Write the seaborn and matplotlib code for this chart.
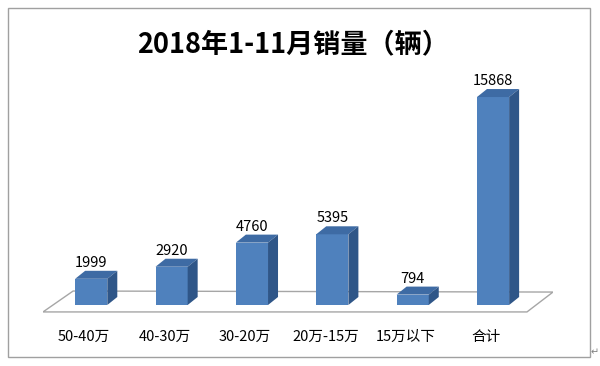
import matplotlib
matplotlib.use("Agg")
import matplotlib.pyplot as plt
from matplotlib.patches import Polygon, Rectangle
from matplotlib.transforms import ScaledTranslation
import seaborn as sns

# 数据
categories = ["50-40万", "40-30万", "30-20万", "20万-15万", "15万以下", "合计"]
values = [1999, 2920, 4760, 5395, 794, 15868]
title = "2018年1-11月销量（辆）"

front_color = "#4F81BD"
top_color = "#3E6BA4"
side_color = "#2F5688"

sns.set_style("white")
plt.rcParams["font.family"] = ["Noto Sans CJK SC", "DejaVu Sans"]

W, H = 600, 366
fig = plt.figure(figsize=(W / 100, H / 100), dpi=100)
# axes box in pixels: left 43, right 553, top 60, bottom 315
ax = fig.add_axes([43 / W, (H - 315) / H, 510 / W, 255 / H])

sns.barplot(x=categories, y=values, color=front_color, width=0.4,
            saturation=1, linewidth=0, edgecolor="none", ax=ax, zorder=3)

ax.set_xlim(-0.6, 5.746)
ax.set_ylim(-763, 18694)
ax.set_xlabel("")
ax.set_ylabel("")
ax.set_yticks([])
for s in ax.spines.values():
    s.set_visible(False)
ax.tick_params(axis="x", length=0, pad=11, labelsize=10.5, colors="#000000")
for lab in ax.get_xticklabels():
    lab.set_transform(lab.get_transform() + ScaledTranslation(-7 / 100, 0, fig.dpi_scale_trans))

# 地板
floor = Polygon([(0, 0.012), (0.949, 0.012), (1.0, 0.090), (0.059, 0.094)],
                closed=True, transform=ax.transAxes, facecolor="white",
                edgecolor="#A6A6A6", lw=1, zorder=1)
ax.add_patch(floor)

# 3D faces from bar geometry
xr = ax.get_xlim()[1] - ax.get_xlim()[0]
yr = ax.get_ylim()[1] - ax.get_ylim()[0]
dx = 10 * xr / 510
dy = 8 * yr / 255
for p, v in zip(ax.patches, values):
    x0 = p.get_x()
    x1 = x0 + p.get_width()
    h = p.get_height()
    top = Polygon([(x0, h), (x1, h), (x1 + dx, h + dy), (x0 + dx, h + dy)],
                  closed=True, facecolor=top_color, edgecolor="none", zorder=3)
    side = Polygon([(x1, 0), (x1 + dx, dy), (x1 + dx, h + dy), (x1, h)],
                   closed=True, facecolor=side_color, edgecolor="none", zorder=3)
    ax.add_patch(top)
    ax.add_patch(side)
    ax.annotate(str(v), xy=(x0 + p.get_width() / 2, h), xytext=(0, 11.5),
                textcoords="offset points", ha="center", va="center",
                fontsize=10.5, color="#000000", zorder=4)

fig.text(293 / W, 1 - 44 / H, title, ha="center", va="center",
         fontsize=19.5, fontweight="bold", color="#000000")

# 外框
fig.patches.append(Rectangle((8 / W, (H - 357) / H), 582 / W, 349 / H,
                             transform=fig.transFigure, fill=False,
                             edgecolor="#A0A0A0", lw=1))
fig.text(595 / W, 1 - 352 / H, "↵", ha="center", va="center",
         fontsize=7, color="#808080", family="DejaVu Sans")

fig.savefig("out.png", dpi=100)
